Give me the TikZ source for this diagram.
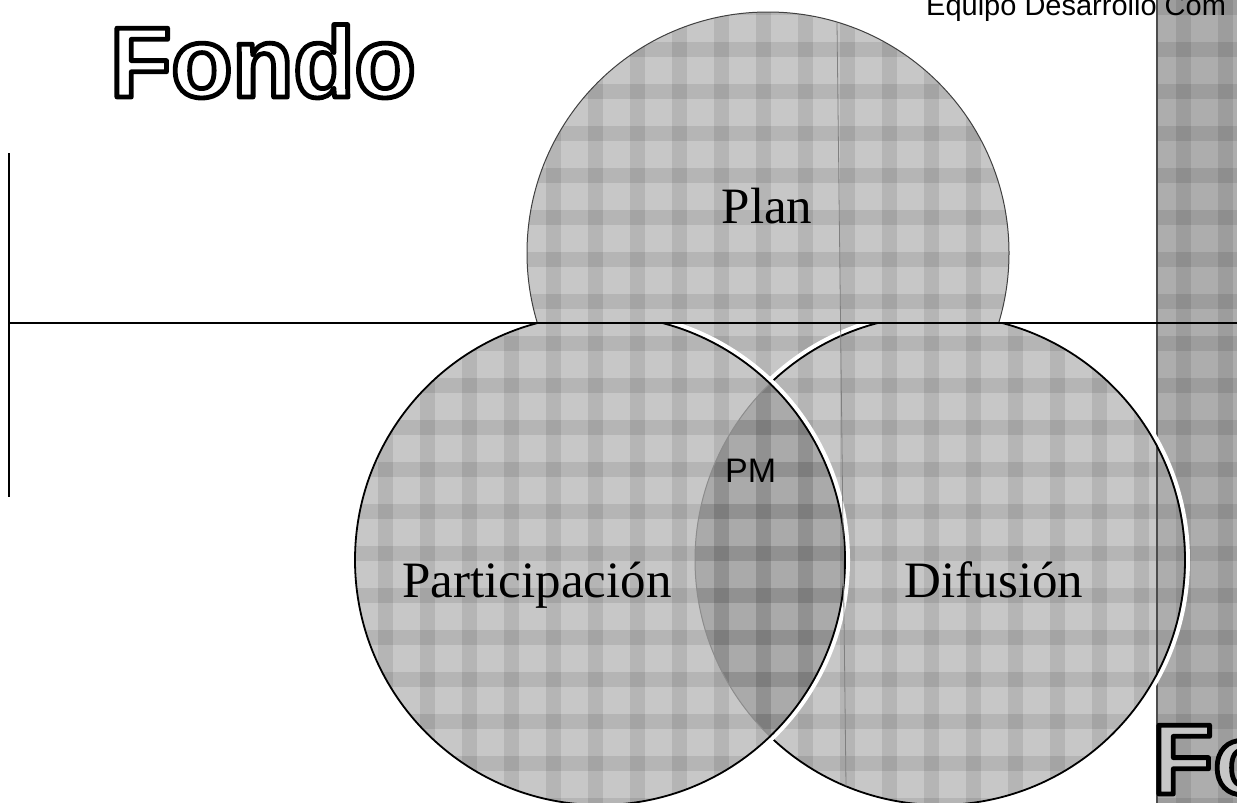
\documentclass[tikz,border=0pt]{standalone}
\usepackage{fontspec}
\setmainfont{Liberation Serif}
\newfontfamily\arialf{Liberation Sans}
\tikzset{
  lbl/.style={font=\fontsize{51}{51}\selectfont, inner sep=0pt, anchor=base},
  pmlbl/.style={font=\arialf\fontsize{34}{34}\selectfont, inner sep=0pt, anchor=base west},
  hdr/.style={font=\arialf\fontsize{29}{29}\selectfont, inner sep=0pt, anchor=base west},
  bigword/.style={font=\arialf\bfseries\fontsize{100}{100}\selectfont, inner sep=0pt, anchor=base west},
  shade/.style={fill=black, fill opacity=0.22},
  band/.style={fill=black, fill opacity=0.09},
  wband/.style={draw=white, line width=4pt},
  bline/.style={draw=black, line width=1.8pt},
  faint/.style={draw=black!45, line width=1pt},
  rule/.style={draw=black, line width=2pt},
}
% outlined text: fill in #1, black stroke via PDF text render mode 2
\newcommand\outlined[2]{{\color{#1}\special{pdf:literal direct 2 Tr 4.8 w 0 G 1 j}#2\special{pdf:literal direct 0 Tr}}}
% plaid texture bands over a region (clip before use)
\newcommand\plaid[4]{%
  \foreach \yy in {#2,42,...,#4}{\fill[band] (#1,\yy) rectangle (#3,\yy+15);}%
  \foreach \xx in {#1,42,...,#3}{\fill[band] (\xx,#2) rectangle (\xx+15,#4);}%
}
\begin{document}
\begin{tikzpicture}[x=1pt, y=-1pt]
  \useasboundingbox (0,0) rectangle (1237,803);
  \clip (0,0) rectangle (1237,803);
  \fill[white] (0,0) rectangle (1237,803);

  \coordinate (T) at (768,253);
  \coordinate (L) at (600,560);
  \coordinate (R) at (940,560);

  % top circle
  \begin{scope}
    \clip (T) circle (241);
    \fill[shade] (T) circle (241);
    \plaid{0}{0}{1237}{803}
  \end{scope}
  \draw[black!75, line width=1pt] (T) circle (241);

  % lower circles fills, clipped below the rule
  \begin{scope}
    \clip (0,323) rectangle (1237,803);
    \fill[white] (L) circle (245);
    \fill[white] (R) circle (245);
    \begin{scope}
      \clip (R) circle (245);
      \fill[shade] (R) circle (245);
      \plaid{0}{0}{1237}{803}
    \end{scope}
    \begin{scope}
      \clip (L) circle (245);
      \fill[white, fill opacity=0.35] (L) circle (245);
      \fill[shade] (L) circle (245);
      \plaid{0}{0}{1237}{803}
    \end{scope}
  \end{scope}

  % right strip
  \fill[black!32] (1157,0) rectangle (1237,803);
  \begin{scope}
    \clip (1157,0) rectangle (1237,803);
    \plaid{0}{0}{1237}{803}
  \end{scope}
  \draw[black!70, line width=1.5pt] (1157,0) -- (1157,803);

  % lower circle outlines
  \begin{scope}
    \clip (0,323) rectangle (1237,803);
    \draw[wband] (R) ++(-133.9:248) arc[start angle=-133.9, end angle=133.9, radius=248];
    \draw[bline] (R) ++(-133.9:245) arc[start angle=-133.9, end angle=133.9, radius=245];
    \draw[faint] (R) ++(133.9:245) arc[start angle=133.9, end angle=226.1, radius=245];
    \draw[wband] (L) circle (248);
    \draw[bline] (L) circle (245);
  \end{scope}

  % scan line
  \coordinate (s1) at (837,23);
  \coordinate (s2) at (846,786);
  \draw[black!50, line width=0.8pt] (s1) -- (s2);

  % rules
  \coordinate (h1) at (10,323);
  \coordinate (h2) at (1237,323);
  \coordinate (v1) at (9,153);
  \coordinate (v2) at (9,497);
  \draw[rule] (h1) -- (h2);
  \draw[rule] (v1) -- (v2);

  % labels
  \node[lbl] (plan) at (767,223) {Plan};
  \node[lbl] (part) at (537,597) {Participación};
  \node[lbl] (dif) at (994,597) {Difusión};
  \node[pmlbl] (pm) at (725,482) {PM};
  \node[hdr] (equipo) at (926,15) {Equipo Desarrollo Com};

  \node[bigword] (fondo) at (110,97) {\outlined{white}{Fondo}};
  \node[bigword] (fo) at (1152,794) {\outlined{black!22}{Fo}};
\end{tikzpicture}
\end{document}
